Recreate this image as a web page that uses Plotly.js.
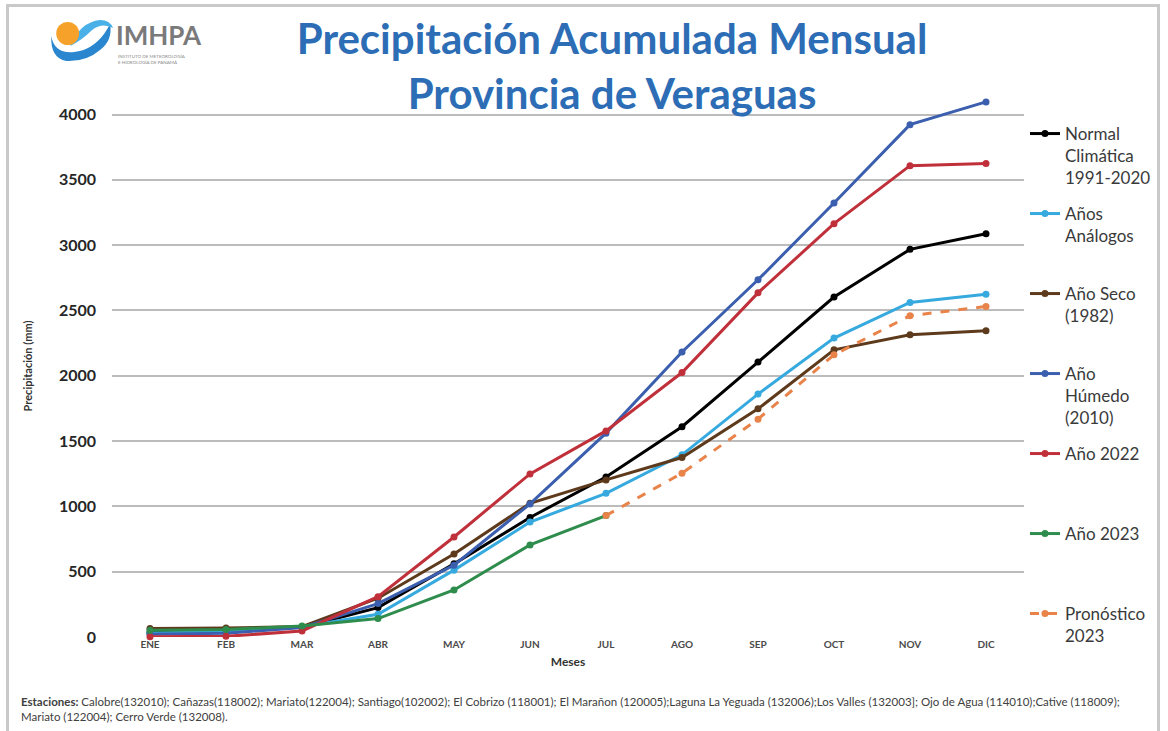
<!DOCTYPE html>
<html>
<head>
<meta charset="utf-8">
<script src="https://cdn.plot.ly/plotly-3.0.1.min.js"></script>
<style>
html,body{margin:0;padding:0;background:#fff;overflow:hidden;}
#wrap{position:relative;width:1168px;height:731px;}
#chart{position:absolute;left:0;top:0;width:1168px;height:731px;}
#frame{position:absolute;left:6px;top:4px;width:1148px;height:740px;border:3px solid #c9c9c9;pointer-events:none;}
</style>
</head>
<body>
<div id="wrap"><div id="chart"></div><div id="frame"></div></div>
<script>
// ---- Data (mm, cumulative monthly) ----
const months = ["ENE","FEB","MAR","ABR","MAY","JUN","JUL","AGO","SEP","OCT","NOV","DIC"];
const normal   = [35, 48, 75, 225, 560, 915, 1225, 1610, 2105, 2603, 2968, 3087];
const analogos = [30, 40, 78, 174, 512, 880, 1100, 1395, 1860, 2289, 2562, 2625];
const seco     = [65, 68, 80, 297, 636, 1024, 1203, 1374, 1747, 2199, 2314, 2345];
const humedo   = [22, 28, 72, 256, 550, 1019, 1561, 2182, 2735, 3323, 3923, 4097];
const anio2022 = [2, 5, 46, 309, 766, 1249, 1578, 2025, 2635, 3165, 3609, 3625];
const anio2023 = [52, 57, 85, 141, 360, 705, 930, null, null, null, null, null];
const pronostico = [null, null, null, null, null, null, 930, 1254, 1668, 2161, 2460, 2531];
const yTicks = [0, 500, 1000, 1500, 2000, 2500, 3000, 3500, 4000];

const seriesNames = [
  "Normal<br>Climática<br>1991-2020",
  "Años<br>Análogos<br> ",
  "Año Seco<br>(1982)<br> ",
  "Año<br>Húmedo<br>(2010)",
  "Año 2022<br> <br> ",
  "Año 2023<br> <br> ",
  "Pronóstico<br>2023"
];
const seriesData = [normal, analogos, seco, humedo, anio2022, anio2023, pronostico];
const seriesColors = ["#000000", "#36a9de", "#5e3a1c", "#3b5fae", "#c0303a", "#2e8c4c", "#e8834a"];
const seriesDash = ["solid","solid","solid","solid","solid","solid","dash"];

// ---- Layout geometry helpers (pixels -> paper) ----
const W = 1168, H = 731, ML = 112, MR = 140, MT = 95, MB = 94;
const PW = W - ML - MR, PH = H - MT - MB;
const px = x => (x - ML) / PW;
const py = y => (H - MB - y) / PH;
function pathFrom(pts){
  return pts.map(c => {
    if (c[0] === "Z") return "Z";
    const out = [c[0]];
    for (let i = 1; i < c.length; i += 2) out.push(px(c[i]).toFixed(5) + "," + py(c[i+1]).toFixed(5));
    return out.join(" ");
  }).join(" ");
}

const traces = seriesData.map((d, i) => ({
  x: months, y: d, type: "scatter", mode: "lines+markers",
  name: seriesNames[i], legendgroup: "g" + i,
  line: {color: seriesColors[i], width: 3, dash: seriesDash[i]},
  marker: {color: seriesColors[i], size: 7, symbol: "circle"},
  connectgaps: false, cliponaxis: false
}));

const fontFam = "Lato, 'Open Sans', sans-serif";

const layout = {
  width: W, height: H,
  margin: {l: ML, r: MR, t: MT, b: MB},
  paper_bgcolor: "#ffffff", plot_bgcolor: "#ffffff",
  font: {family: fontFam, color: "#333333"},
  title: {
    text: "Precipitación Acumulada Mensual<br>Provincia de Veraguas",
    font: {family: fontFam, size: 42, color: "#2c6db5", weight: 700},
    x: 0.524, xanchor: "center", xref: "container",
    y: 1 - 54 / H, yanchor: "middle", yref: "container"
  },
  showlegend: true,
  legend: {
    x: px(1029), xanchor: "left", y: py(116), yanchor: "top",
    font: {family: fontFam, size: 17, color: "#3a3a3a"},
    valign: "top", tracegroupgap: 10.7, traceorder: "grouped",
    bgcolor: "rgba(0,0,0,0)", borderwidth: 0, itemwidth: 30
  },
  xaxis: {
    type: "category", range: [-0.5, 11.5],
    showgrid: false, zeroline: false, showline: false, ticks: "",
    tickfont: {family: fontFam, size: 10, color: "#4a4a4a", weight: 700},
    title: {text: "Meses", font: {family: fontFam, size: 12, color: "#333333", weight: 700}, standoff: 8},
    fixedrange: true
  },
  yaxis: {
    range: [0, 4150], tickvals: yTicks, ticktext: yTicks.map(String),
    showgrid: true, gridcolor: "#bcbcbc", gridwidth: 2,
    zeroline: false, showline: false, ticks: "",
    ticklabelstandoff: 15,
    tickfont: {family: fontFam, size: 16, color: "#262626", weight: 700},
    title: {text: "Precipitación (mm)", font: {family: fontFam, size: 11, color: "#333333", weight: 700}, standoff: 24},
    fixedrange: true
  },
  shapes: [
    {type: "path", xref: "paper", yref: "paper", layer: "above", line: {width: 0}, fillcolor: "#2a86cf",
     path: pathFrom([["M",51,36],["Q",54,54,74,52],["Q",92,50,104,34],["Q",108,28,110,24],["Q",113,40,100,50],["Q",86,62,66,61],["Q",50,58,51,36],["Z"]])},
    {type: "path", xref: "paper", yref: "paper", layer: "above", line: {width: 0}, fillcolor: "#4ab0e8",
     path: pathFrom([["M",70,46],["Q",80,22,100,20],["Q",110,20,113,28],["Q",102,22,92,30],["Q",82,40,70,46],["Z"]])},
    {type: "circle", xref: "paper", yref: "paper", layer: "above", line: {width: 0}, fillcolor: "#f6a22a",
     x0: px(56), x1: px(79), y0: py(45), y1: py(22)}
  ],
  annotations: [
    {text: "IMHPA", xref: "paper", yref: "paper", x: px(114), y: py(35), xanchor: "left", yanchor: "middle",
     showarrow: false, font: {family: fontFam, size: 26, color: "#7a7a7a", weight: 700}},
    {text: "INSTITUTO DE METEOROLOGÍA<br>E HIDROLOGÍA DE PANAMÁ", xref: "paper", yref: "paper", x: px(116), y: py(59),
     xanchor: "left", yanchor: "middle", align: "left", showarrow: false,
     font: {family: fontFam, size: 4.5, color: "#8a8a8a"}},
    {text: "<b>Estaciones:</b> Calobre(132010); Cañazas(118002); Mariato(122004); Santiago(102002); El Cobrizo (118001); El Marañon (120005);Laguna La Yeguada (132006);Los Valles (132003]; Ojo de Agua (114010);Cative (118009);<br>Mariato (122004); Cerro Verde (132008).",
     xref: "paper", yref: "paper", x: px(19), y: py(709), xanchor: "left", yanchor: "middle", align: "left",
     showarrow: false, font: {family: fontFam, size: 11.5, color: "#404040"}}
  ]
};

Plotly.newPlot("chart", traces, layout, {displayModeBar: false, staticPlot: true});
</script>
</body>
</html>
